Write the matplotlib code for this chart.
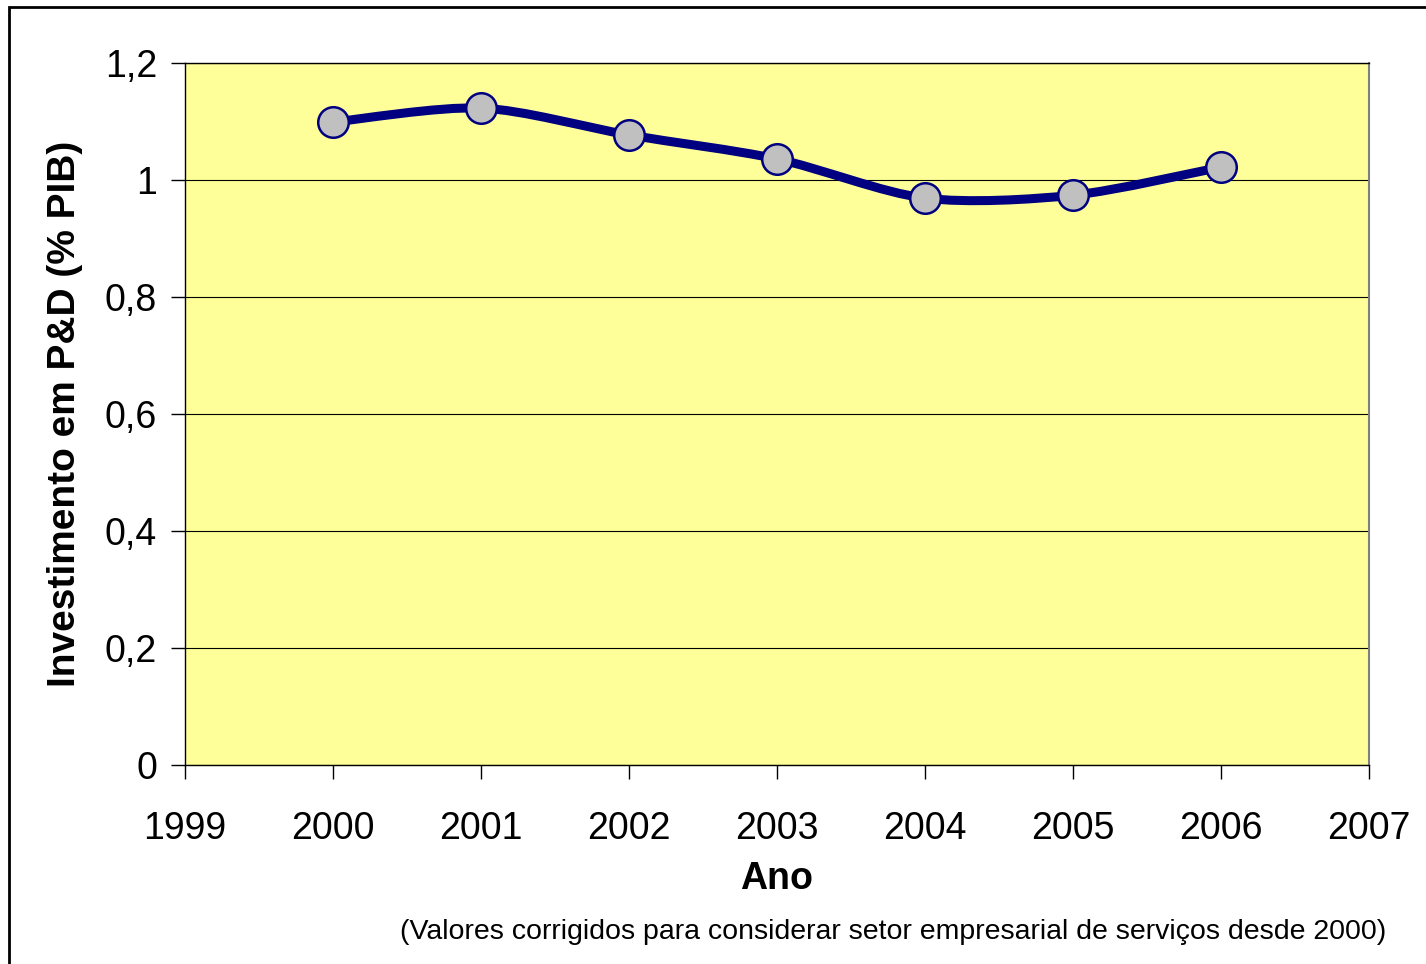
import numpy as np
import matplotlib.pyplot as plt
from matplotlib.path import Path
from matplotlib.patches import PathPatch, Rectangle

plt.rcParams['font.family'] = ['Liberation Sans', 'DejaVu Sans']

anos = [2000, 2001, 2002, 2003, 2004, 2005, 2006]
investimento = [1.099, 1.123, 1.077, 1.036, 0.969, 0.974, 1.022]
xticks = [1999, 2000, 2001, 2002, 2003, 2004, 2005, 2006, 2007]
yticks = [0, 0.2, 0.4, 0.6, 0.8, 1.0, 1.2]
ylabels = ['0', '0,2', '0,4', '0,6', '0,8', '1', '1,2']


def smooth_path(x, y):
    # excel-like smoothed line: cubic bezier, catmull-rom control points
    pts = np.column_stack([x, y]).astype(float)
    verts = [pts[0]]
    codes = [Path.MOVETO]
    n = len(pts)
    for i in range(n - 1):
        p0 = pts[max(i - 1, 0)]
        p1 = pts[i]
        p2 = pts[i + 1]
        p3 = pts[min(i + 2, n - 1)]
        c1 = p1 + (p2 - p0) / 7
        c2 = p2 - (p3 - p1) / 7
        verts += [c1, c2, p2]
        codes += [Path.CURVE4] * 3
    return Path(verts, codes)


fig = plt.figure(figsize=(14.26, 9.64), dpi=100)
ax = fig.add_axes([185 / 1426, 1 - 765 / 964, (1369 - 185) / 1426, (765 - 63) / 964])

# outer chart border
fig.patches.append(Rectangle((9 / 1426, -0.1), 1.2, 1 - 7 / 964 + 0.1, transform=fig.transFigure,
                             fill=False, edgecolor='black', linewidth=2))

ax.set_facecolor('#ffff99')
ax.set_xlim(1999, 2007)
ax.set_ylim(0, 1.2)
ax.set_yticks(yticks)
ax.set_yticklabels(ylabels)
ax.set_xticks(xticks)
ax.set_xticklabels([str(a) for a in xticks])
ax.yaxis.grid(True, color='black', linewidth=0.8)
ax.set_axisbelow(True)

ax.add_patch(PathPatch(smooth_path(anos, investimento), facecolor='none',
                       edgecolor='#000080', linewidth=6.5, capstyle='round', zorder=3))
ax.plot(anos, investimento, linestyle='none', marker='o', markersize=22,
        markerfacecolor='#c0c0c0', markeredgecolor='#000080', markeredgewidth=1.8, zorder=4)

for s in ['left', 'bottom', 'top']:
    ax.spines[s].set_color('black')
    ax.spines[s].set_linewidth(1)
ax.spines['right'].set_color('#808080')
ax.spines['right'].set_linewidth(1.5)

ax.tick_params(axis='both', direction='out', length=10, width=1, labelsize=27, colors='black')
ax.tick_params(axis='x', pad=23)
ax.tick_params(axis='y', pad=10)

ax.set_xlabel('Ano', fontsize=27, fontweight='bold', labelpad=10)
ax.set_ylabel('Investimento em P&D (% PIB)', fontsize=28, fontweight='bold', labelpad=16)

fig.text(1386 / 1426, 1 - 932 / 964, '(Valores corrigidos para considerar setor empresarial de serviços desde 2000)',
         ha='right', va='center', fontsize=20.5)

fig.savefig('out.png', dpi=100)
